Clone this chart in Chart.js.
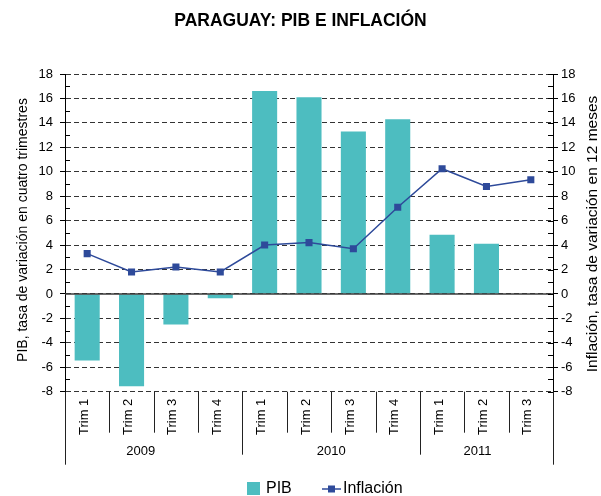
<!DOCTYPE html>
<html>
<head>
<meta charset="utf-8">
<script src="https://cdn.jsdelivr.net/npm/chart.js@4.4.0/dist/chart.umd.min.js"></script>
<style>
  html, body { margin: 0; padding: 0; background: #fff; }
</style>
</head>
<body>
<canvas id="chart" width="601" height="496"></canvas>
<script>
// trimestres, años y series (variación %)
const quarters = ["Trim 1", "Trim 2", "Trim 3", "Trim 4", "Trim 1", "Trim 2", "Trim 3", "Trim 4", "Trim 1", "Trim 2", "Trim 3"];
const years = ["2009", "2010", "2011"];
const quartersPerYear = [4, 4, 3];
const pib = [-5.45, -7.55, -2.5, -0.35, 16.6, 16.1, 13.3, 14.3, 4.85, 4.1, null];
const inflacion = [3.3, 1.8, 2.2, 1.8, 4.0, 4.2, 3.7, 7.1, 10.25, 8.8, 9.35];
const yMin = -8;
const yMax = 18;
const yStep = 2;

const FONT = "'Liberation Sans', Arial, Helvetica, sans-serif";
const TEAL = "#4DBDC0";
const BLUE = "#2E4A9A";

const decor = {
  id: "decor",
  afterDatasetsDraw(chart) {
    const { ctx, chartArea: a, scales } = chart;
    const y0 = scales.y.getPixelForValue(0);
    ctx.save();
    ctx.strokeStyle = "#3a3a3a";
    ctx.lineWidth = 1.5;
    ctx.beginPath();
    ctx.moveTo(a.left, y0);
    ctx.lineTo(a.right, y0);
    ctx.stroke();
    ctx.restore();
  },
  afterDraw(chart) {
    const { ctx, chartArea: a, scales } = chart;
    const x = scales.x;
    const y = scales.y;
    ctx.save();
    ctx.strokeStyle = "#000";
    ctx.lineWidth = 1;

    // marcas menores y marcas interiores del eje derecho
    for (let v = yMin; v <= yMax; v += 1) {
      const py = Math.round(y.getPixelForValue(v)) + 0.5;
      ctx.beginPath();
      if (v % 2 !== 0) {
        ctx.moveTo(a.left, py); ctx.lineTo(a.left + 5, py);
      }
      ctx.moveTo(a.right - 5, py); ctx.lineTo(a.right, py);
      ctx.stroke();
    }

    // separadores de trimestres y años
    const w = x.width / quarters.length;
    const bounds = [0];
    quartersPerYear.reduce((s, n) => { bounds.push(s + n); return s + n; }, 0);
    ctx.strokeStyle = "#222";
    for (let i = 0; i <= quarters.length; i++) {
      const px = Math.round(x.left + i * w) + 0.5;
      let len = 41;
      if (i === 0 || i === quarters.length) len = 73;
      else if (bounds.includes(i)) len = 63;
      ctx.beginPath();
      ctx.moveTo(px, a.bottom);
      ctx.lineTo(px, a.bottom + len);
      ctx.stroke();
    }

    ctx.fillStyle = "#000";
    ctx.font = "13px " + FONT;
    ctx.textAlign = "center";
    ctx.textBaseline = "middle";
    const nudge = [-13, 0, -9];
    years.forEach((yr, k) => {
      const mid = (bounds[k] + bounds[k + 1]) / 2;
      ctx.fillText(yr, x.left + mid * w + nudge[k], a.bottom + 60);
    });

    // títulos de ejes
    ctx.font = "14px " + FONT;
    ctx.save();
    ctx.translate(23, 230);
    ctx.rotate(-Math.PI / 2);
    ctx.fillText("PIB, tasa de variación en cuatro trimestres", 0, 0);
    ctx.restore();
    ctx.font = "15.5px " + FONT;
    ctx.save();
    ctx.translate(593, 234);
    ctx.rotate(-Math.PI / 2);
    ctx.fillText("Inflación, tasa de variación en 12 meses", 0, 0);
    ctx.restore();

    // leyenda
    const ly = 489;
    const pibSet = chart.data.datasets.find(d => d.yAxisID === "y");
    const infSet = chart.data.datasets.find(d => d.yAxisID === "y2");
    ctx.font = "16px " + FONT;
    ctx.textAlign = "left";
    ctx.fillStyle = TEAL;
    ctx.fillRect(247, ly - 7, 13, 13);
    ctx.fillStyle = "#000";
    ctx.fillText(pibSet.label, 266, ly);
    ctx.strokeStyle = BLUE;
    ctx.lineWidth = 1.5;
    ctx.beginPath();
    ctx.moveTo(322, ly); ctx.lineTo(341, ly);
    ctx.stroke();
    ctx.fillStyle = BLUE;
    ctx.fillRect(328, ly - 3.5, 7, 7);
    ctx.fillStyle = "#000";
    ctx.fillText(infSet.label, 343, ly);
    ctx.restore();
  }
};

new Chart(document.getElementById("chart"), {
  type: "bar",
  data: {
    labels: quarters,
    datasets: [
      {
        type: "line",
        label: "Inflación",
        data: inflacion,
        yAxisID: "y2",
        borderColor: BLUE,
        backgroundColor: BLUE,
        borderWidth: 1.5,
        pointStyle: "rect",
        pointRadius: 5,
        pointBorderWidth: 0,
        pointBackgroundColor: BLUE,
        tension: 0,
        order: 0
      },
      {
        label: "PIB",
        data: pib,
        yAxisID: "y",
        backgroundColor: TEAL,
        barPercentage: 0.565,
        categoryPercentage: 1,
        order: 1
      }
    ]
  },
  options: {
    responsive: false,
    animation: false,
    layout: { padding: 0 },
    plugins: {
      legend: { display: false },
      tooltip: { enabled: false },
      title: {
        display: true,
        text: "PARAGUAY: PIB E INFLACIÓN",
        color: "#000",
        font: { family: FONT, size: 17.5, weight: "bold" },
        padding: { top: 11, bottom: 42 }
      }
    },
    scales: {
      x: {
        grid: { display: false, drawTicks: false },
        border: { display: false },
        ticks: {
          color: "#000",
          font: { family: FONT, size: 13 },
          minRotation: 90,
          maxRotation: 90,
          autoSkip: false,
          padding: 7,
          labelOffset: -3
        },
        afterFit(scale) { scale.height = 104.3; }
      },
      y: {
        position: "left",
        min: yMin,
        max: yMax,
        ticks: {
          stepSize: yStep,
          color: "#000",
          font: { family: FONT, size: 13 },
          padding: 7
        },
        grid: { color: "#333", tickColor: "#000", tickLength: 5, lineWidth: 1 },
        border: { color: "#000", width: 1, dash: [5, 3] },
        afterFit(scale) { scale.width = 65; }
      },
      y2: {
        position: "right",
        min: yMin,
        max: yMax,
        ticks: {
          stepSize: yStep,
          color: "#000",
          font: { family: FONT, size: 13 },
          padding: 3
        },
        grid: { drawOnChartArea: false, tickColor: "#000", tickLength: 5 },
        border: { color: "#000", width: 1 },
        afterFit(scale) { scale.width = 48; }
      }
    }
  },
  plugins: [decor]
});
</script>
</body>
</html>
